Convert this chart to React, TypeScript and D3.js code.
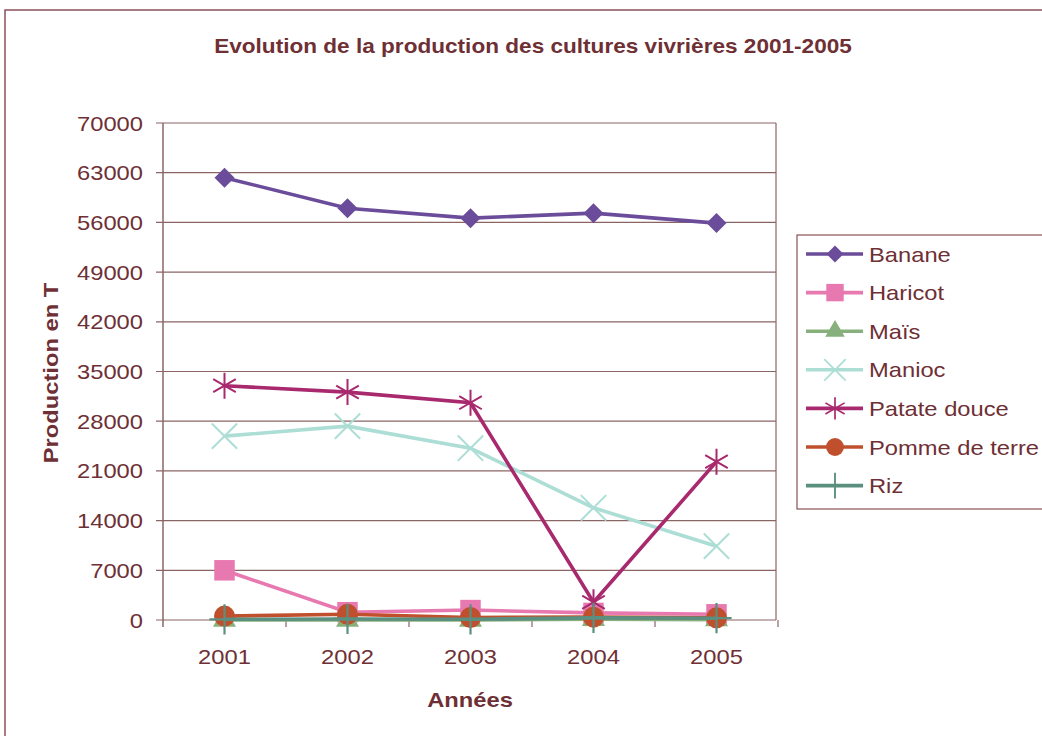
import * as d3 from "d3";

const years = ["2001", "2002", "2003", "2004", "2005"];
const yTicks = [0, 7000, 14000, 21000, 28000, 35000, 42000, 49000, 56000, 63000, 70000];

const banane = [62300, 58000, 56600, 57300, 55900];
const haricot = [7000, 1100, 1400, 1000, 800];
const mais = [0, 0, 0, 100, 50];
const manioc = [25900, 27300, 24200, 15800, 10400];
const patate = [33000, 32100, 30600, 2500, 22300];
const pomme = [550, 800, 350, 400, 300];
const riz = [100, 150, 100, 300, 250];

const seriesNames = ["Banane", "Haricot", "Maïs", "Manioc", "Patate douce", "Pomme de terre", "Riz"];
const seriesValues = [banane, haricot, mais, manioc, patate, pomme, riz];
const seriesColors = ["#6b4c9a", "#e879b0", "#88b07c", "#acded6", "#a8296e", "#c0502d", "#5b8f7f"];

const TEXT = "#6e2f35";
const GRID = "#8b6464";
const FONT = "'Liberation Sans', Arial, sans-serif";
const SX = 1.13; // the source text is a bit wider than Liberation Sans

const W = 1042;
const H = 736;
const margin = { left: 163, top: 123, right: 776, bottom: 620 };

// text stretched horizontally around its anchor
function T(props: { x: number; y: number; size: number; bold?: boolean; anchor?: string; rotate?: number; children: any }) {
  const { x, y, size, bold, anchor, rotate, children } = props;
  return (
    <g transform={`translate(${x},${y}) rotate(${rotate || 0}) scale(${SX},1)`}>
      <text
        x={0}
        y={0}
        dy="0.36em"
        textAnchor={anchor || "start"}
        fontSize={size}
        fontWeight={bold ? "bold" : "normal"}
        fill={TEXT}
      >
        {children}
      </text>
    </g>
  );
}

function Marker({ i, color }: { i: number; color: string }) {
  const sym = d3.symbol();
  if (i === 0)
    return <path d={sym.type(d3.symbolSquare).size(200)()!} fill={color} transform="rotate(45)" />;
  if (i === 1) return <path d={sym.type(d3.symbolSquare).size(420)()!} fill={color} />;
  if (i === 2) return <path d={sym.type(d3.symbolTriangle).size(230)()!} fill={color} />;
  if (i === 3)
    return <path d={sym.type(d3.symbolTimes).size(420)()!} fill="none" stroke={color} strokeWidth={2} />;
  if (i === 4)
    return <path d={sym.type(d3.symbolAsterisk).size(480)()!} fill="none" stroke={color} strokeWidth={2} />;
  if (i === 5) return <ellipse rx={10.5} ry={10.5} fill={color} />;
  return <path d={sym.type(d3.symbolPlus).size(300)()!} fill="none" stroke={color} strokeWidth={2.2} />;
}

export default function App() {
  const x = d3.scaleBand().domain(years).range([margin.left, margin.right + 2]);
  const y = d3.scaleLinear().domain([0, 70000]).range([margin.bottom, margin.top]);
  const cx = (yr: string) => (x(yr) as number) + x.bandwidth() / 2;

  const line = d3
    .line<number>()
    .x((_, j) => cx(years[j]))
    .y((d) => y(d));

  const legendX = 797;
  const legendY = 235;
  const rowH = 38.6;

  return (
    <svg width={W} height={H} style={{ display: "block", position: "absolute", left: 0, top: 0 }} fontFamily={FONT}>
      <rect x={0} y={0} width={W} height={H} fill="#fff" />
      <rect x={5} y={10} width={W + 20} height={H + 20} fill="none" stroke="#8b5058" strokeWidth={1.5} />

      <T x={533} y={46} size={20} bold anchor="middle">
        Evolution de la production des cultures vivrières 2001-2005
      </T>

      {/* grid and y axis */}
      {yTicks.map((t) => (
        <g key={t}>
          <line x1={margin.left - 7} x2={margin.right} y1={y(t)} y2={y(t)} stroke={GRID} strokeWidth={1.2} />
          <T x={143} y={y(t)} size={21} anchor="end">
            {t}
          </T>
        </g>
      ))}
      <line x1={margin.right} x2={margin.right} y1={margin.top} y2={margin.bottom} stroke={GRID} strokeWidth={1.2} />
      <line x1={margin.left} x2={margin.left} y1={margin.top} y2={margin.bottom + 7} stroke={GRID} strokeWidth={1.5} />
      {years.map((yr) => (
        <line
          key={"t" + yr}
          x1={(x(yr) as number) + x.bandwidth()}
          x2={(x(yr) as number) + x.bandwidth()}
          y1={margin.bottom}
          y2={margin.bottom + 7}
          stroke={GRID}
          strokeWidth={1.2}
        />
      ))}
      {years.map((yr) => (
        <T key={"l" + yr} x={cx(yr)} y={656} size={21} anchor="middle">
          {yr}
        </T>
      ))}

      <T x={470} y={699} size={21} bold anchor="middle">
        Années
      </T>
      <T x={50} y={373} size={21} bold anchor="middle" rotate={-90}>
        Production en T
      </T>

      {/* series */}
      {seriesValues.map((vals, i) => (
        <g key={seriesNames[i]}>
          <path d={line(vals)!} fill="none" stroke={seriesColors[i]} strokeWidth={3.6} />
          {vals.map((v, j) => (
            <g key={j} transform={`translate(${cx(years[j])}, ${y(v)})`}>
              <Marker i={i} color={seriesColors[i]} />
            </g>
          ))}
        </g>
      ))}

      {/* legend */}
      <rect x={legendX} y={legendY} width={270} height={274} fill="#fff" stroke="#8b5058" strokeWidth={1.2} />
      {seriesNames.map((name, i) => {
        const ly = legendY + 19 + i * rowH;
        return (
          <g key={"lg" + name}>
            <line x1={806} x2={863} y1={ly} y2={ly} stroke={seriesColors[i]} strokeWidth={3.6} />
            <g transform={`translate(835, ${ly}) scale(0.85)`}>
              <Marker i={i} color={seriesColors[i]} />
            </g>
            <T x={869} y={ly} size={21}>
              {name}
            </T>
          </g>
        );
      })}
    </svg>
  );
}
